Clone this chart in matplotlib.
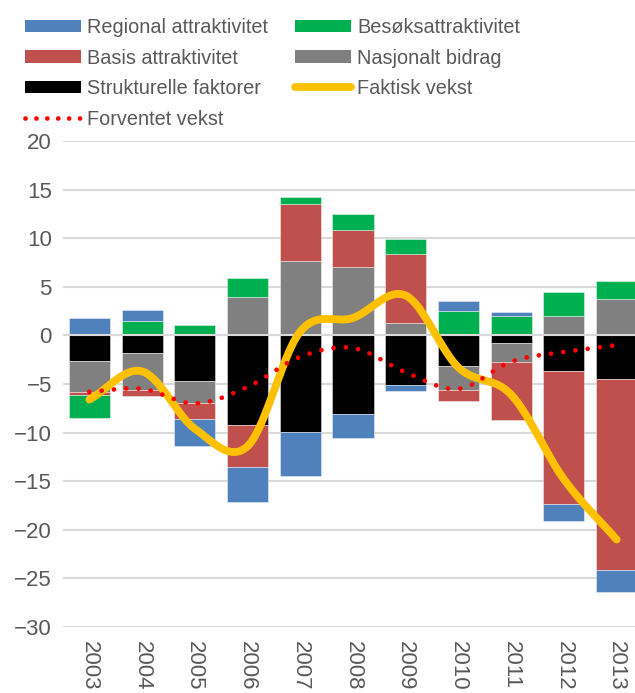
import numpy as np
import matplotlib
matplotlib.use("Agg")
import matplotlib.pyplot as plt
from matplotlib.patches import Patch
from matplotlib.lines import Line2D

plt.rcParams['font.family'] = ['Liberation Sans', 'DejaVu Sans']

years = ["2003", "2004", "2005", "2006", "2007", "2008", "2009", "2010", "2011", "2012", "2013"]

regional   = [1.8, 1.2, -2.7, -3.6, -4.6, -2.5, -0.6, 1.0, 0.4, -1.8, -2.3]
besok      = [-2.3, 1.45, 1.1, 1.9, 0.75, 1.7, 1.5, 2.5, 2.0, 2.5, 1.9]
basis      = [-0.35, -0.6, -1.65, -4.3, 5.8, 3.8, 7.1, -1.1, -6.0, -13.6, -19.6]
nasjonalt  = [-3.2, -3.8, -2.3, 4.0, 7.7, 7.0, 1.3, -2.45, -1.9, 2.0, 3.7]
struktur   = [-2.6, -1.8, -4.7, -9.2, -9.9, -8.1, -5.1, -3.15, -0.8, -3.7, -4.5]
faktisk    = [-6.6, -3.7, -9.6, -11.4, 0.4, 1.8, 4.1, -3.3, -6.1, -14.8, -21.0]
forventet  = [-5.8, -5.5, -7.0, -5.3, -2.2, -1.3, -3.8, -5.5, -2.7, -1.7, -1.0]

C_BLUE, C_GREEN, C_RED, C_GREY, C_BLACK = "#4F81BD", "#00B050", "#C0504D", "#808080", "#000000"
C_YEL, C_DOT = "#FFC000", "#FF0000"
TXT = "#595959"


def smooth(y, n=40):
    """Catmull-Rom style smoothing (Excel 'smoothed line')."""
    y = np.asarray(y, float)
    x = np.arange(len(y), dtype=float)
    xs, ys = [], []
    for i in range(len(y) - 1):
        p0 = y[i - 1] if i > 0 else y[i]
        p3 = y[i + 2] if i + 2 < len(y) else y[i + 1]
        m1 = (y[i + 1] - p0) / (2 if i > 0 else 1)
        m2 = (p3 - y[i]) / (2 if i + 2 < len(y) else 1)
        t = np.linspace(0, 1, n, endpoint=(i == len(y) - 2))
        h00 = 2 * t**3 - 3 * t**2 + 1
        h10 = t**3 - 2 * t**2 + t
        h01 = -2 * t**3 + 3 * t**2
        h11 = t**3 - t**2
        xs.append(x[i] + t)
        ys.append(h00 * y[i] + h10 * m1 + h01 * y[i + 1] + h11 * m2)
    return np.concatenate(xs), np.concatenate(ys)


fig = plt.figure(figsize=(6.35, 6.93), dpi=100)
ax = fig.add_axes([63 / 635, 66 / 693, 580 / 635, 486 / 693])

x = np.arange(len(years))
# stacking order from zero outward
stack = [(struktur, C_BLACK), (nasjonalt, C_GREY), (basis, C_RED), (besok, C_GREEN), (regional, C_BLUE)]
pos = np.zeros(len(years))
neg = np.zeros(len(years))
for vals, col in stack:
    v = np.asarray(vals, float)
    bottoms = np.where(v >= 0, pos, neg)
    ax.bar(x, v, bottom=bottoms, width=0.78, color=col, edgecolor=(1, 1, 1, 0.5),
           linewidth=0.6, zorder=2)
    pos = pos + np.where(v >= 0, v, 0)
    neg = neg + np.where(v < 0, v, 0)

ax.axhline(0, color="#D9D9D9", lw=1.5, zorder=3)

fx, fy = smooth(faktisk)
ax.plot(fx, fy, color=C_YEL, lw=5.6, solid_capstyle="round", solid_joinstyle="round", zorder=4)
gx, gy = smooth(forventet)
ax.plot(gx, gy, color=C_DOT, lw=3.4, linestyle=(0, (0.01, 2.6)), dash_capstyle="round", zorder=5)

ax.set_xlim(-0.5, len(years) - 0.5)
ax.set_ylim(-30, 20)
ax.set_yticks(np.arange(-30, 21, 5))
ax.set_xticks(x)
ax.set_xticklabels(years, rotation=-90, va="top", ha="center")
ax.tick_params(axis="both", length=0, colors=TXT, labelsize=16)
ax.tick_params(axis="x", pad=10)
ax.tick_params(axis="y", pad=8)
ax.grid(axis="y", color="#D9D9D9", lw=1.5, zorder=0)
ax.set_axisbelow(True)
for s in ax.spines.values():
    s.set_visible(False)

handles = [
    Patch(facecolor=C_BLUE, label="Regional attraktivitet"),
    Patch(facecolor=C_RED, label="Basis attraktivitet"),
    Patch(facecolor=C_BLACK, label="Strukturelle faktorer"),
    Line2D([], [], color=C_DOT, lw=3.4, linestyle=(0, (0.01, 2.3)), dash_capstyle="round",
           label="Forventet vekst"),
    Patch(facecolor=C_GREEN, label="Besøksattraktivitet"),
    Patch(facecolor=C_GREY, label="Nasjonalt bidrag"),
    Line2D([], [], color=C_YEL, lw=5.6, solid_capstyle="round", label="Faktisk vekst"),
]
leg = fig.legend(handles=handles, ncol=2, loc="upper left", bbox_to_anchor=(25 / 635, 1 - 18 / 693),
                 frameon=False, fontsize=14.3, handlelength=2.8, handleheight=0.6,
                 handletextpad=0.3, columnspacing=1.4, labelspacing=0.58, borderpad=0,
                 borderaxespad=0, labelcolor=TXT)

fig.savefig("out.png", dpi=100)
